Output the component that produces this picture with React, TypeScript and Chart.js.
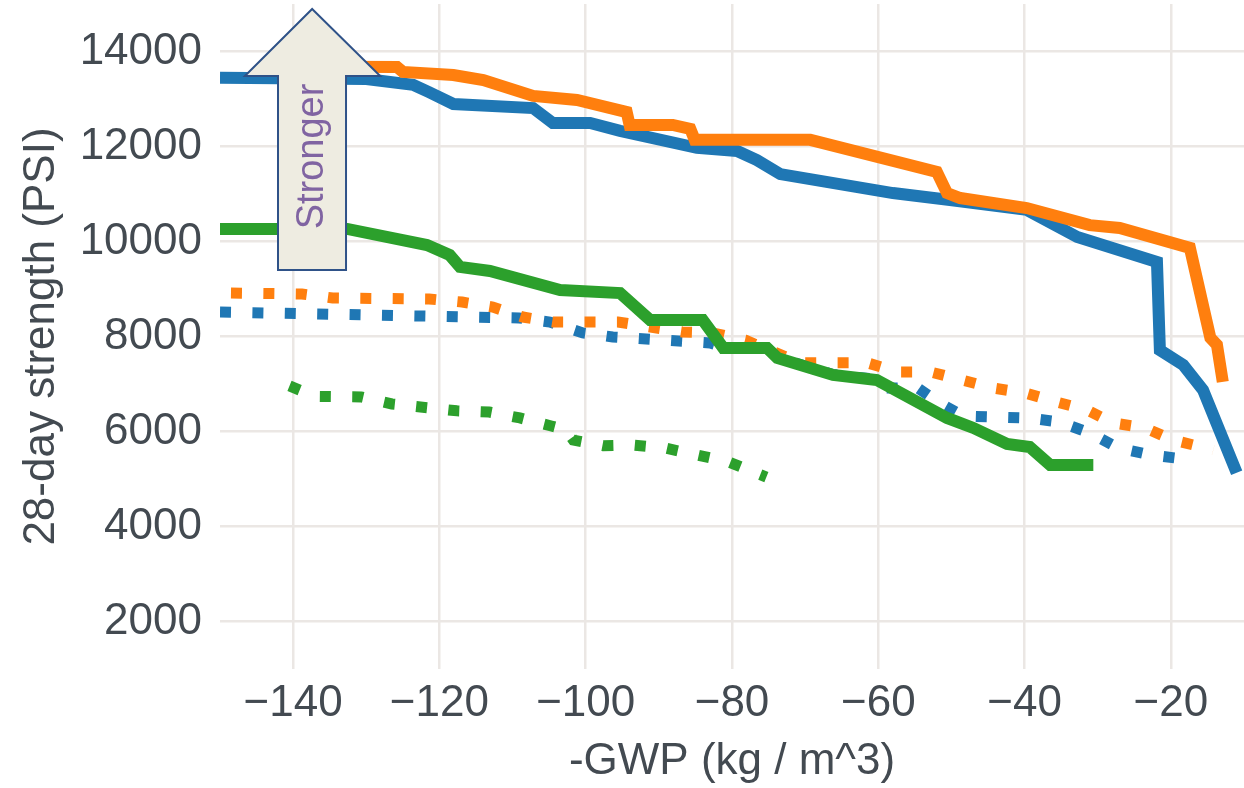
import React, { useEffect, useRef } from "react";
import { Chart, registerables } from "chart.js";

Chart.register(...registerables);

// x: -GWP (kg / m^3), y: 28-day strength (PSI)
const blueSolid: [number, number][] = [
  [-150, 13450], [-130, 13420], [-123.6, 13300], [-121.5, 13150], [-118.1, 12895],
  [-107.2, 12810], [-104.5, 12495], [-99.4, 12495], [-95.3, 12330], [-84.8, 11970],
  [-79.3, 11905], [-76.6, 11715], [-73.4, 11420], [-58.0, 11020], [-50.2, 10875],
  [-39.7, 10665], [-32.8, 10095], [-21.9, 9570], [-21.5, 7715], [-18.3, 7400],
  [-15.6, 6875], [-11.0, 5130],
];
const orangeSolid: [number, number][] = [
  [-135, 13680], [-125.8, 13675], [-125.0, 13570], [-118.1, 13505], [-114.0, 13400],
  [-107.2, 13065], [-101.2, 12980], [-94.4, 12725], [-94.0, 12455], [-88.1, 12455],
  [-85.7, 12370], [-85.1, 12140], [-69.3, 12140], [-52.0, 11465], [-50.6, 11020],
  [-48.8, 10915], [-39.7, 10705], [-31.1, 10345], [-27.0, 10285], [-17.4, 9865],
  [-14.6, 7970], [-13.7, 7825], [-12.9, 7045],
];
const greenSolid: [number, number][] = [
  [-150, 10265], [-132.6, 10265], [-121.7, 9925], [-118.6, 9715], [-117.2, 9465],
  [-113.1, 9380], [-103.5, 8980], [-95.3, 8915], [-91.2, 8350], [-84.0, 8350],
  [-81.2, 7760], [-75.2, 7760], [-73.8, 7550], [-66.2, 7190], [-60.2, 7085],
  [-50.6, 6285], [-47.0, 6075], [-42.4, 5740], [-39.3, 5675], [-36.5, 5295],
  [-30.6, 5295],
];
const blueDotted: [number, number][] = [
  [-150, 8515], [-109.1, 8390], [-104.9, 8305], [-100.4, 8075], [-96.3, 7990],
  [-83.0, 7865], [-81.0, 7770], [-75.2, 7760], [-73.8, 7560], [-66.2, 7200],
  [-61.0, 7110], [-59.8, 6915], [-54.6, 6915], [-51.6, 6600],
  [-48.4, 6325], [-39.5, 6285], [-35.2, 6200], [-31.1, 5970], [-27.2, 5655],
  [-22.8, 5505], [-18.2, 5420],
];
const orangeDotted: [number, number][] = [
  [-148.5, 8915], [-138.8, 8895], [-134.6, 8810], [-121.4, 8790], [-116.9, 8725],
  [-112.7, 8620], [-108.6, 8410], [-104.5, 8305], [-95.6, 8305], [-86.8, 8095],
  [-82.6, 8075], [-78.2, 7925], [-70.7, 7445], [-61.5, 7445], [-57.3, 7255],
  [-52.9, 7255], [-48.6, 7085], [-44.3, 6915], [-39.9, 6810], [-35.6, 6620],
  [-31.5, 6455], [-27.9, 6180], [-23.5, 6075], [-19.7, 5820], [-15.3, 5655],
  [-14.2, 5610],
];
const greenDotted: [number, number][] = [
  [-140.5, 6960], [-137.0, 6740], [-130.7, 6728], [-126.5, 6580], [-117.6, 6435],
  [-113.2, 6410], [-109.0, 6285], [-104.7, 6115], [-102.7, 6035], [-101.7, 5820],
  [-97.6, 5700], [-93.5, 5715], [-89.2, 5655], [-84.8, 5505], [-80.5, 5360],
  [-75.3, 5040],
];

const xTicks = [-140, -120, -100, -80, -60, -40, -20];
const yTicks = [2000, 4000, 6000, 8000, 10000, 12000, 14000];

const xTitle = "-GWP (kg / m^3)";
const yTitle = "28-day strength (PSI)";
const arrowLabel = "Stronger";

// arrow annotation, in data units
const arrowTip = { x: -137.4, y: 14895 };
const arrowHead = { left: -146.6, right: -128.1, y: 13484 };
const arrowShaft = { left: -142.07, right: -132.77, bottom: 9400 };
const arrowText = { x: -137.3, y: 11790 };

const BLUE = "#1f77b4";
const ORANGE = "#ff7f0e";
const GREEN = "#2ca02c";
const TEXT = "#434a51";
const GRID = "#ebe7e4";
const FONT = "'Liberation Sans', Arial, sans-serif";

const toPts = (a: [number, number][]) => a.map(([x, y]) => ({ x, y }));

const arrowPlugin = {
  id: "strongerArrow",
  afterDatasetsDraw(chart: any) {
    const { ctx } = chart;
    const xs = chart.scales.x;
    const ys = chart.scales.y;
    const px = (v: number) => xs.getPixelForValue(v);
    const py = (v: number) => ys.getPixelForValue(v);
    ctx.save();
    ctx.beginPath();
    ctx.moveTo(px(arrowTip.x), py(arrowTip.y));
    ctx.lineTo(px(arrowHead.right), py(arrowHead.y));
    ctx.lineTo(px(arrowShaft.right), py(arrowHead.y));
    ctx.lineTo(px(arrowShaft.right), py(arrowShaft.bottom));
    ctx.lineTo(px(arrowShaft.left), py(arrowShaft.bottom));
    ctx.lineTo(px(arrowShaft.left), py(arrowHead.y));
    ctx.lineTo(px(arrowHead.left), py(arrowHead.y));
    ctx.closePath();
    ctx.fillStyle = "#eeece1";
    ctx.fill();
    ctx.lineWidth = 2;
    ctx.strokeStyle = "#2f5288";
    ctx.lineJoin = "miter";
    ctx.stroke();
    ctx.translate(px(arrowText.x), py(arrowText.y));
    ctx.rotate(-Math.PI / 2);
    ctx.fillStyle = "#8064a2";
    ctx.font = `38px ${FONT}`;
    ctx.textAlign = "center";
    ctx.textBaseline = "middle";
    ctx.fillText(arrowLabel, 0, 0);
    ctx.restore();
  },
};

const fmt = (v: number) => (v < 0 ? "\u2212" + Math.abs(v) : String(v));

export default function App() {
  const ref = useRef<HTMLCanvasElement | null>(null);
  useEffect(() => {
    if (!ref.current) return;
    const solid = (data: [number, number][], color: string) => ({
      data: toPts(data),
      borderColor: color,
      backgroundColor: color,
      borderWidth: 12,
      pointRadius: 0,
      tension: 0,
      borderCapStyle: "butt" as const,
      borderJoinStyle: "miter" as const,
      fill: false,
    });
    const dotted = (data: [number, number][], color: string) => ({
      ...solid(data, color),
      borderWidth: 11,
      borderDash: [11, 21.4],
    });
    const chart = new Chart(ref.current, {
      type: "line",
      data: {
        datasets: [
          solid(greenSolid, GREEN),
          solid(orangeSolid, ORANGE),
          solid(blueSolid, BLUE),
          dotted(greenDotted, GREEN),
          dotted(orangeDotted, ORANGE),
          dotted(blueDotted, BLUE),
        ],
      },
      options: {
        animation: false,
        responsive: false,
        maintainAspectRatio: false,
        layout: { padding: { top: 4, left: 0, right: 0, bottom: 0 } },
        plugins: { legend: { display: false }, tooltip: { enabled: false } },
        scales: {
          x: {
            type: "linear",
            min: -150,
            max: -10,
            afterBuildTicks: (axis: any) => {
              axis.ticks = xTicks.map((v) => ({ value: v }));
            },
            afterFit: (s: any) => {
              s.height = 119;
              s.paddingLeft = 0;
              s.paddingRight = 0;
              s.paddingTop = 0;
              s.paddingBottom = 0;
            },
            grid: { color: GRID, lineWidth: 2.5, drawTicks: false },
            border: { display: false },
            ticks: {
              color: TEXT,
              font: { family: FONT, size: 44 },
              padding: 8,
              maxRotation: 0,
              autoSkip: false,
              callback: (v: any) => fmt(Number(v)),
            },
            title: {
              display: true,
              text: xTitle,
              color: TEXT,
              font: { family: FONT, size: 44 },
              padding: { top: 0, bottom: 0 },
            },
          },
          y: {
            type: "linear",
            min: 1000,
            max: 15000,
            afterBuildTicks: (axis: any) => {
              axis.ticks = yTicks.map((v) => ({ value: v }));
            },
            afterFit: (s: any) => {
              s.width = 220;
              s.paddingLeft = 0;
              s.paddingRight = 0;
              s.paddingTop = 0;
              s.paddingBottom = 0;
            },
            grid: { color: GRID, lineWidth: 2.5, drawTicks: false },
            border: { display: false },
            ticks: {
              color: TEXT,
              font: { family: FONT, size: 44 },
              padding: 18,
              autoSkip: false,
              callback: (v: any) => fmt(Number(v)),
            },
            title: {
              display: true,
              text: yTitle,
              color: TEXT,
              font: { family: FONT, size: 44 },
              padding: 15,
            },
          },
        },
      },
      plugins: [arrowPlugin],
    });
    return () => chart.destroy();
  }, []);
  return (
    <canvas
      ref={ref}
      width={1244}
      height={788}
      style={{ position: "absolute", left: 0, top: 0, width: 1244, height: 788, background: "#fff" }}
    />
  );
}
